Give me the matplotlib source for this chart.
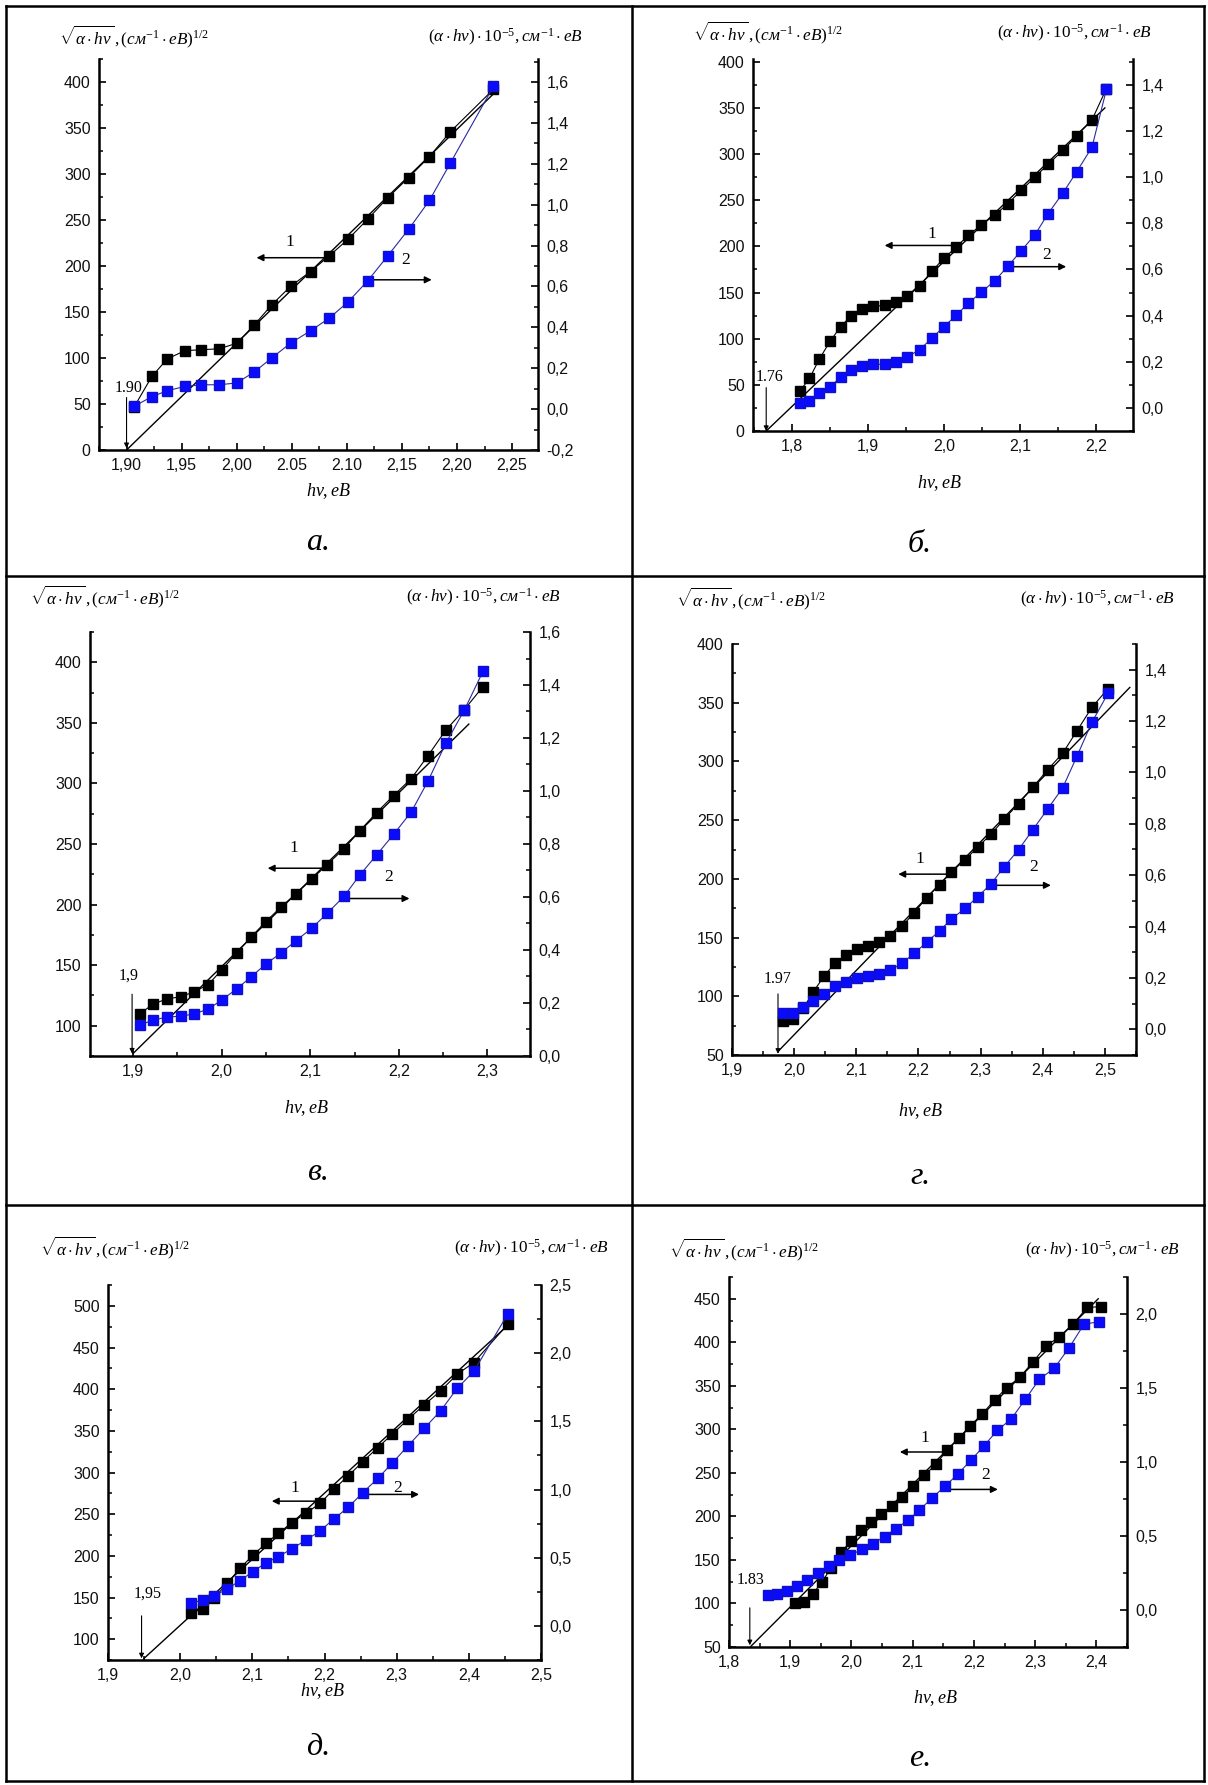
import matplotlib
matplotlib.use("Agg")
import matplotlib.pyplot as plt
from matplotlib.lines import Line2D
from matplotlib.ticker import FixedLocator, FixedFormatter, AutoMinorLocator

plt.rcParams["font.family"] = ["Liberation Sans", "DejaVu Sans"]
plt.rcParams["mathtext.fontset"] = "custom"
plt.rcParams["mathtext.rm"] = "Liberation Serif"
plt.rcParams["mathtext.it"] = "Liberation Serif:italic"
plt.rcParams["mathtext.bf"] = "Liberation Serif:bold"

W, H = 1208, 1785

# ---- data ----
# panel а
hv_a = [1.907, 1.923, 1.937, 1.953, 1.968, 1.984, 2.000, 2.016, 2.032, 2.049,
        2.067, 2.084, 2.101, 2.119, 2.137, 2.156, 2.175, 2.194, 2.233]
sq_a = [47, 80, 99, 108, 109, 110, 116, 136, 158, 178,
        194, 211, 229, 251, 274, 296, 319, 346, 392]
ah_a = [0.014, 0.061, 0.090, 0.111, 0.119, 0.119, 0.128, 0.182, 0.251, 0.323,
        0.383, 0.445, 0.524, 0.628, 0.749, 0.879, 1.021, 1.204, 1.578]
fit_a = ([1.900, 2.233], [0, 387])

# panel б
hv_b = [1.810, 1.823, 1.836, 1.850, 1.864, 1.878, 1.892, 1.907, 1.922, 1.937,
        1.952, 1.968, 1.984, 2.000, 2.016, 2.032, 2.049, 2.067, 2.084, 2.102,
        2.120, 2.137, 2.157, 2.175, 2.195, 2.214]
sq_b = [43, 57, 78, 97, 113, 125, 132, 135, 136, 140,
        146, 157, 173, 187, 199, 212, 223, 234, 246, 261,
        275, 289, 304, 320, 337, 371]
ah_b = [0.021, 0.032, 0.063, 0.092, 0.132, 0.164, 0.180, 0.189, 0.189, 0.200,
        0.222, 0.252, 0.302, 0.352, 0.401, 0.453, 0.501, 0.551, 0.613, 0.682,
        0.751, 0.841, 0.933, 1.024, 1.130, 1.380]
fit_b = ([1.766, 2.212], [0, 350])

# panel в
hv_v = [1.908, 1.923, 1.938, 1.954, 1.969, 1.985, 2.000, 2.017, 2.033, 2.050,
        2.067, 2.084, 2.102, 2.119, 2.138, 2.156, 2.175, 2.194, 2.214, 2.233,
        2.253, 2.274, 2.295]
sq_v = [110, 118, 122, 124, 128, 134, 146, 160, 173, 186,
        198, 209, 221, 233, 246, 261, 276, 290, 304, 323,
        344, 361, 380]
ah_v = [0.118, 0.135, 0.147, 0.150, 0.159, 0.177, 0.211, 0.253, 0.298, 0.347,
        0.389, 0.435, 0.483, 0.538, 0.602, 0.683, 0.759, 0.836, 0.921, 1.038,
        1.180, 1.306, 1.452]
fit_v = ([1.900, 2.279], [77, 349])

# panel г
hv_g = [1.982, 1.998, 2.015, 2.031, 2.048, 2.065, 2.083, 2.101, 2.119, 2.137,
        2.155, 2.174, 2.193, 2.213, 2.234, 2.253, 2.275, 2.295, 2.317, 2.338,
        2.361, 2.384, 2.408, 2.432, 2.455, 2.479, 2.505]
sq_g = [79, 81, 90, 104, 117, 128, 135, 140, 143, 146,
        151, 160, 171, 184, 195, 206, 216, 227, 238, 251,
        264, 278, 293, 307, 326, 346, 362]
ah_g = [0.063, 0.063, 0.086, 0.110, 0.139, 0.168, 0.185, 0.199, 0.208, 0.215,
        0.230, 0.258, 0.296, 0.338, 0.384, 0.429, 0.471, 0.515, 0.567, 0.633,
        0.699, 0.777, 0.858, 0.940, 1.063, 1.195, 1.308]
fit_g = ([1.974, 2.540], [53, 363])

# panel д
hv_d = [2.015, 2.032, 2.047, 2.065, 2.083, 2.101, 2.119, 2.136, 2.155, 2.174,
        2.194, 2.213, 2.233, 2.253, 2.274, 2.294, 2.316, 2.338, 2.361, 2.384,
        2.407, 2.454]
sq_d = [132, 136, 149, 167, 185, 201, 215, 227, 240, 251,
        263, 280, 296, 313, 330, 346, 364, 381, 398, 418,
        432, 478]
ah_d = [0.171, 0.187, 0.220, 0.270, 0.333, 0.399, 0.463, 0.507, 0.567, 0.628,
        0.697, 0.785, 0.870, 0.977, 1.082, 1.195, 1.322, 1.448, 1.578, 1.743,
        1.867, 2.288]
fit_d = ([1.950, 2.452], [77, 475])

# panel е (the two curves have different hv grids)
hv_e1 = [1.907, 1.922, 1.937, 1.952, 1.967, 1.983, 2.000, 2.015, 2.032, 2.049,
         2.066, 2.083, 2.101, 2.119, 2.138, 2.156, 2.175, 2.194, 2.214, 2.234,
         2.254, 2.275, 2.296, 2.318, 2.339, 2.362, 2.385, 2.408]
sq_e = [100, 102, 111, 125, 141, 159, 172, 184, 194, 203,
        212, 222, 235, 247, 260, 276, 290, 304, 318, 334,
        348, 360, 377, 396, 406, 421, 440, 441]
hv_e2 = [1.863, 1.879, 1.895, 1.911, 1.928, 1.945, 1.963, 1.980, 1.998, 2.017,
         2.035, 2.054, 2.072, 2.092, 2.111, 2.132, 2.153, 2.174, 2.195, 2.216,
         2.238, 2.261, 2.284, 2.307, 2.331, 2.355, 2.380, 2.404]
ah_e = [0.101, 0.106, 0.126, 0.161, 0.201, 0.252, 0.294, 0.335, 0.370, 0.410,
        0.448, 0.496, 0.548, 0.606, 0.674, 0.760, 0.835, 0.921, 1.011, 1.107,
        1.213, 1.291, 1.424, 1.560, 1.633, 1.769, 1.932, 1.947]
fit_e = ([1.836, 2.403], [51, 450])

# tick labels
xt_a = [1.90, 1.95, 2.00, 2.05, 2.10, 2.15, 2.20, 2.25]
xl_a = ["1,90", "1,95", "2,00", "2.05", "2.10", "2,15", "2,20", "2,25"]
xt_b = [1.8, 1.9, 2.0, 2.1, 2.2]
xl_b = ["1,8", "1,9", "2,0", "2,1", "2,2"]
xt_v = [1.9, 2.0, 2.1, 2.2, 2.3]
xl_v = ["1,9", "2,0", "2,1", "2,2", "2,3"]
xt_g = [1.9, 2.0, 2.1, 2.2, 2.3, 2.4, 2.5]
xl_g = ["1,9", "2,0", "2,1", "2,2", "2,3", "2,4", "2,5"]
xt_e = [1.8, 1.9, 2.0, 2.1, 2.2, 2.3, 2.4]
xl_e = ["1,8", "1,9", "2,0", "2,1", "2,2", "2,3", "2,4"]

yt_a = [0, 50, 100, 150, 200, 250, 300, 350, 400]
yt_v = [100, 150, 200, 250, 300, 350, 400]
yt_g = [50, 100, 150, 200, 250, 300, 350, 400]
yt_d = [100, 150, 200, 250, 300, 350, 400, 450, 500]
yt_e = [50, 100, 150, 200, 250, 300, 350, 400, 450]

rt_a = [-0.2, 0.0, 0.2, 0.4, 0.6, 0.8, 1.0, 1.2, 1.4, 1.6]
rl_a = ["-0,2", "0,0", "0,2", "0,4", "0,6", "0,8", "1,0", "1,2", "1,4", "1,6"]
rt_b = [0.0, 0.2, 0.4, 0.6, 0.8, 1.0, 1.2, 1.4]
rl_b = ["0,0", "0,2", "0,4", "0,6", "0,8", "1,0", "1,2", "1,4"]
rt_v = [0.0, 0.2, 0.4, 0.6, 0.8, 1.0, 1.2, 1.4, 1.6]
rl_v = ["0,0", "0,2", "0,4", "0,6", "0,8", "1,0", "1,2", "1,4", "1,6"]
rt_d = [0.0, 0.5, 1.0, 1.5, 2.0, 2.5]
rl_d = ["0,0", "0,5", "1,0", "1,5", "2,0", "2,5"]
rt_e = [0.0, 0.5, 1.0, 1.5, 2.0]
rl_e = ["0,0", "0,5", "1,0", "1,5", "2,0"]

letters = ["а.", "б.", "в.", "г.", "д.", "е."]
eg_labels = ["1.90", "1.76", "1,9", "1.97", "1,95", "1.83"]

LEFT_LABEL = r"$\sqrt{\alpha\cdot h\nu}\,,(см^{-1}\cdot eB)^{1/2}$"
RIGHT_LABEL = r"$(\alpha\cdot h\nu)\cdot \mathrm{10}^{-5}, см^{-1}\cdot eB$"
X_LABEL = r"$h\nu, eB$"

panels = [
    dict(hv1=hv_a, y1=sq_a, hv2=hv_a, y2=ah_a, fit=fit_a,
         xt=xt_a, xl=xl_a, yt=yt_a, rt=rt_a, rl=rl_a,
         xlim=(1.875, 2.2735), ylim=(0, 425), y2lim=(-0.2, 1.7125),
         box=(99, 538, 59, 450), eg=(1.900, 57, 2, 1.902, 67),
         ar1=(2.083, 2.018, 209, 2.048, 226), ar2=(2.119, 2.177, 185, 2.153, 206),
         lab=((59, 37), (583, 37), (328, 491), (318, 542))),
    dict(hv1=hv_b, y1=sq_b, hv2=hv_b, y2=ah_b, fit=fit_b,
         xt=xt_b, xl=xl_b, yt=yt_a, rt=rt_b, rl=rl_b,
         xlim=(1.7486, 2.249), ylim=(0, 403), y2lim=(-0.1, 1.512),
         box=(753, 1133, 59, 431), eg=(1.766, 47, 0, 1.770, 58),
         ar1=(2.013, 1.922, 201, 1.984, 213), ar2=(2.084, 2.161, 178, 2.135, 191),
         lab=((693, 33), (1152, 33), (939, 483), (920, 544))),
    dict(hv1=hv_v, y1=sq_v, hv2=hv_v, y2=ah_v, fit=fit_v,
         xt=xt_v, xl=xl_v, yt=yt_v, rt=rt_v, rl=rl_v,
         xlim=(1.8515, 2.348), ylim=(75, 425), y2lim=(0, 1.6),
         box=(90, 530, 632, 1056), eg=(1.899, 126, 77, 1.895, 141),
         ar1=(2.118, 2.052, 230, 2.082, 247), ar2=(2.139, 2.212, 205, 2.188, 223),
         lab=((30, 597), (561, 597), (306, 1108), (318, 1173))),
    dict(hv1=hv_g, y1=sq_g, hv2=hv_g, y2=ah_g, fit=fit_g,
         xt=xt_g, xl=xl_g, yt=yt_g, rt=rt_b, rl=rl_b,
         xlim=(1.9, 2.55), ylim=(50, 400), y2lim=(-0.1, 1.5),
         box=(732, 1136, 644, 1055), eg=(1.974, 102, 51, 1.973, 115),
         ar1=(2.2485, 2.1675, 204, 2.202, 217), ar2=(2.318, 2.413, 194.5, 2.386, 210),
         lab=((676, 599), (1175, 599), (920, 1111), (920, 1176))),
    dict(hv1=hv_d, y1=sq_d, hv2=hv_d, y2=ah_d, fit=fit_d,
         xt=xt_g, xl=xl_g, yt=yt_d, rt=rt_d, rl=rl_d,
         xlim=(1.9, 2.5), ylim=(75, 525), y2lim=(-0.25, 2.5),
         box=(108, 541, 1285, 1660), eg=(1.9465, 128, 77, 1.955, 155),
         ar1=(2.191, 2.127, 265.6, 2.159, 282), ar2=(2.253, 2.331, 273.7, 2.302, 282),
         lab=((40, 1248), (609, 1248), (322, 1691), (318, 1747))),
    dict(hv1=hv_e1, y1=sq_e, hv2=hv_e2, y2=ah_e, fit=fit_e,
         xt=xt_e, xl=xl_e, yt=yt_e, rt=rt_e, rl=rl_e,
         xlim=(1.8, 2.45), ylim=(50, 475), y2lim=(-0.25, 2.25),
         box=(729, 1127, 1277, 1647), eg=(1.834, 95, 52, 1.8354, 127),
         ar1=(2.152, 2.079, 274, 2.120, 290), ar2=(2.155, 2.239, 231, 2.219, 247),
         lab=((669, 1250), (1180, 1250), (935, 1698), (920, 1758))),
]

SERIF = ["Liberation Serif", "DejaVu Serif"]
BLUE = "#0a0aff"
TICK_FS = 11.5

fig = plt.figure(figsize=(W / 100, H / 100), dpi=100)


def draw_panel(i, p):
    L, R, T, B = p["box"]
    ax = fig.add_axes([L / W, 1 - B / H, (R - L) / W, (B - T) / H])
    ax2 = ax.twinx()

    ax.plot(p["fit"][0], p["fit"][1], color="black", lw=1.0, zorder=2)
    ax.plot(p["hv1"], p["y1"], "-s", color="black", ms=6.5, lw=0.8, zorder=3)
    ax2.plot(p["hv2"], p["y2"], "-s", color="#2a2aa0", mfc=BLUE, mec="#1010c8",
             ms=6.5, lw=0.8, zorder=3)

    ax.set_xlim(*p["xlim"])
    ax.set_ylim(*p["ylim"])
    ax2.set_ylim(*p["y2lim"])

    ax.xaxis.set_major_locator(FixedLocator(p["xt"]))
    ax.xaxis.set_major_formatter(FixedFormatter(p["xl"]))
    ax.xaxis.set_minor_locator(AutoMinorLocator(2))
    ax.yaxis.set_major_locator(FixedLocator(p["yt"]))
    ax.yaxis.set_major_formatter(FixedFormatter([str(v) for v in p["yt"]]))
    ax.yaxis.set_minor_locator(AutoMinorLocator(2))
    ax2.yaxis.set_major_locator(FixedLocator(p["rt"]))
    ax2.yaxis.set_major_formatter(FixedFormatter(p["rl"]))
    ax2.yaxis.set_minor_locator(AutoMinorLocator(2))

    for s in ("top", "right"):
        ax.spines[s].set_visible(False)
    for s in ("top", "left", "bottom"):
        ax2.spines[s].set_visible(False)
    for s in ("left", "bottom"):
        ax.spines[s].set_linewidth(1.8)
    ax2.spines["right"].set_linewidth(1.8)

    for a in (ax, ax2):
        a.tick_params(which="major", direction="in", length=5, width=1.3,
                      labelsize=TICK_FS, colors="#111111", pad=6)
        a.tick_params(which="minor", direction="in", length=3, width=1.1)

    # band-gap marker
    egx, ytop, ybot, tx, ty = p["eg"]
    ax.annotate("", xy=(egx, ybot), xytext=(egx, ytop),
                arrowprops=dict(arrowstyle="-|>", color="black", lw=0.8,
                                mutation_scale=7, shrinkA=0, shrinkB=0))
    ax.text(tx, ty, eg_labels[i], family=SERIF, fontsize=11.5, ha="center",
            va="center")

    # curve labels with arrows toward their axes
    for num, (xs, xe, y, lx, ly) in (("1", p["ar1"]), ("2", p["ar2"])):
        ax.annotate("", xy=(xe, y), xytext=(xs, y),
                    arrowprops=dict(arrowstyle="-|>", color="black", lw=1.1,
                                    mutation_scale=10, shrinkA=0, shrinkB=0))
        ax.text(lx, ly, num, family=SERIF, fontsize=12.5, ha="center", va="center")

    (lx, ly), (rx, ry), (xx, xy), (cx, cy) = p["lab"]
    fig.text(lx / W, 1 - ly / H, LEFT_LABEL, fontsize=12.3, ha="left", va="center")
    fig.text(rx / W, 1 - ry / H, RIGHT_LABEL, fontsize=12.3, ha="right", va="center")
    fig.text(xx / W, 1 - xy / H, X_LABEL, fontsize=13, ha="center", va="center")
    fig.text(cx / W, 1 - cy / H, letters[i], family=SERIF, style="italic",
             fontsize=23, ha="center", va="center")


for i, p in enumerate(panels):
    draw_panel(i, p)

# table grid around the panels
for y in (6, 576, 1205, 1781):
    fig.add_artist(Line2D([6 / W, 1204 / W], [1 - y / H, 1 - y / H],
                          transform=fig.transFigure, color="black", lw=1.8))
for x in (6, 632, 1204):
    fig.add_artist(Line2D([x / W, x / W], [1 - 6 / H, 1 - 1781 / H],
                          transform=fig.transFigure, color="black", lw=1.8))

fig.savefig("out.png", dpi=100)
